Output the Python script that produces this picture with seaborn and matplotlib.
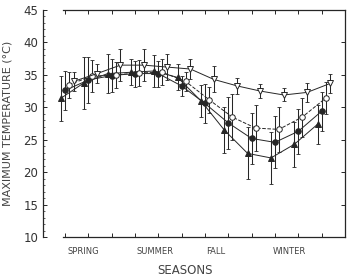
import numpy as np
import pandas as pd
import seaborn as sns
import matplotlib
matplotlib.use("Agg")
import matplotlib.pyplot as plt
from matplotlib.ticker import MultipleLocator

months = list(range(12))
seasons = ["SPRING", "SUMMER", "FALL", "WINTER"]
season_pos = [0.8, 3.85, 6.45, 9.6]

circle_filled = [32.6, 34.2, 34.9, 35.2, 35.2, 33.3, 30.6, 27.6, 25.2, 24.6, 26.3, 29.4]
circle_filled_err = [3.0, 3.5, 2.5, 2.0, 2.0, 1.5, 3.0, 4.0, 4.0, 4.0, 3.5, 3.0]
circle_open = [33.5, 34.8, 35.0, 35.3, 35.4, 34.0, 31.2, 28.5, 26.8, 26.6, 28.5, 31.4]
circle_open_err = [2.0, 2.5, 2.0, 2.0, 2.0, 1.5, 2.0, 3.5, 3.5, 3.5, 3.0, 2.5]
tri_filled = [31.4, 33.8, 35.2, 35.4, 35.6, 34.6, 31.0, 26.5, 22.9, 22.2, 24.3, 27.4]
tri_filled_err = [3.5, 4.0, 3.0, 2.0, 2.5, 2.0, 2.5, 3.5, 4.0, 4.0, 3.5, 3.0]
tri_open = [34.0, 35.2, 36.5, 36.5, 36.2, 35.9, 34.3, 33.3, 32.5, 31.9, 32.3, 33.7]
tri_open_err = [1.5, 1.5, 2.5, 2.5, 2.0, 1.5, 2.0, 1.2, 1.1, 1.0, 1.5, 1.5]

sns.set_style("ticks")
plt.rcParams['font.family'] = ['DejaVu Sans']

fig = plt.figure(figsize=(3.52, 2.77), dpi=100)
ax = fig.add_axes([0.122, 0.144, 0.858, 0.82])

ink = "#262626"
series = [
    # values, errors, x shift, marker, face, linestyle
    (tri_filled, tri_filled_err, -0.17, "^", ink, "-"),
    (circle_filled, circle_filled_err, 0.0, "o", ink, "-"),
    (circle_open, circle_open_err, 0.17, "o", "white", "--"),
    (tri_open, tri_open_err, 0.38, "v", "white", "-"),
]

for vals, errs, shift, mk, face, ls in series:
    x = np.array(months) + shift
    ax.errorbar(x, vals, yerr=errs, fmt="none", ecolor=ink, elinewidth=0.75,
                capsize=1.5, capthick=0.6, zorder=2)
    df = pd.DataFrame({"month": x, "temp": vals})
    sns.lineplot(data=df, x="month", y="temp", ax=ax, color=ink, lw=0.7,
                 linestyle=ls, marker=mk, markersize=4, markerfacecolor=face,
                 markeredgecolor=ink, markeredgewidth=0.7, zorder=3)

ax.set_xlim(-0.94, 12.0)
ax.set_ylim(10, 45)
ax.yaxis.set_major_locator(MultipleLocator(5))
ax.yaxis.set_minor_locator(MultipleLocator(1))
ax.set_xticks(months)
ax.set_xticklabels([])
ax.tick_params(axis="y", which="major", direction="in", length=3, width=0.7,
               labelsize=8.5, labelcolor="#333333", right=True)
ax.tick_params(axis="y", which="minor", direction="in", length=1.5, width=0.5, right=False)
ax.tick_params(axis="x", direction="in", length=3, width=0.7, top=True)

for s in ax.spines.values():
    s.set_color(ink)
    s.set_linewidth(0.9)
ax.spines["bottom"].set_bounds(-0.1, 12.0)
ax.spines["top"].set_bounds(-0.1, 12.0)

for name, p in zip(seasons, season_pos):
    ax.text(p, -0.045, name, transform=ax.get_xaxis_transform(), ha="center",
            va="top", fontsize=6, color="#444444")

ax.set_xlabel("SEASONS", fontsize=8.5, color="#444444")
ax.xaxis.set_label_coords(0.47, -0.12)
ax.set_ylabel("MAXIMUM TEMPERATURE (°C)", fontsize=8, color="#444444")
ax.yaxis.set_label_coords(-0.1, 0.5)

fig.savefig("out.png", dpi=100)
